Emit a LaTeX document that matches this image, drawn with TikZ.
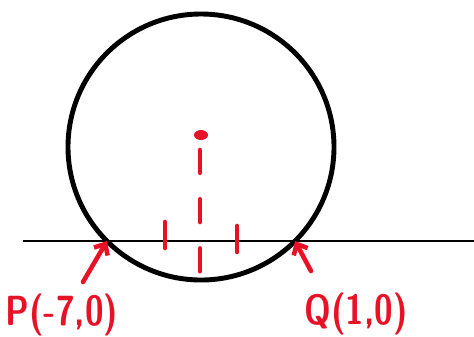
\documentclass[tikz,border=0pt]{standalone}
\usepackage{xcolor}
\usepackage{tikz}
\usetikzlibrary{arrows.meta, calc}
\definecolor{penred}{RGB}{232,18,38}
\tikzset{
  pen/.style={penred, line width=2.6pt, line cap=round},
  penlabel/.style={penred, font=\fontsize{24}{24}\selectfont\sffamily\bfseries, inner sep=0pt, xscale=0.8}
}
\begin{document}
\begin{tikzpicture}[x=0.02cm, y=-0.02cm, >={Straight Barb[length=5pt, width=9pt]}]
			\useasboundingbox (0,0) rectangle (474,336);
			\coordinate (O) at (201,147);
			\coordinate (P) at (107,241);
			\coordinate (Q) at (295,241);
			\coordinate (ptail) at (83,282);
			\coordinate (qtail) at (311,271);
			\draw[line width=1.1pt] (23,241) -- (474,241);
			\draw[line width=2.8pt] (O) circle (133);
			\fill[penred] (O) ++(0,-12) ellipse (7 and 5);
			\draw[pen, dash pattern=on 13 off 15] (200,150) -- (200,293);
			\draw[pen] (165,222) -- (165,248);
			\draw[pen] (237,226) -- (237,252);
			\draw[pen, ->] (ptail) -- (P);
			\draw[pen, ->] (qtail) -- (Q);
			\node[penlabel] (plabel) at (62,315) {P(-7,0)};
			\node[penlabel] (qlabel) at (356,314) {Q(1,0)};
		\end{tikzpicture}
\end{document}
